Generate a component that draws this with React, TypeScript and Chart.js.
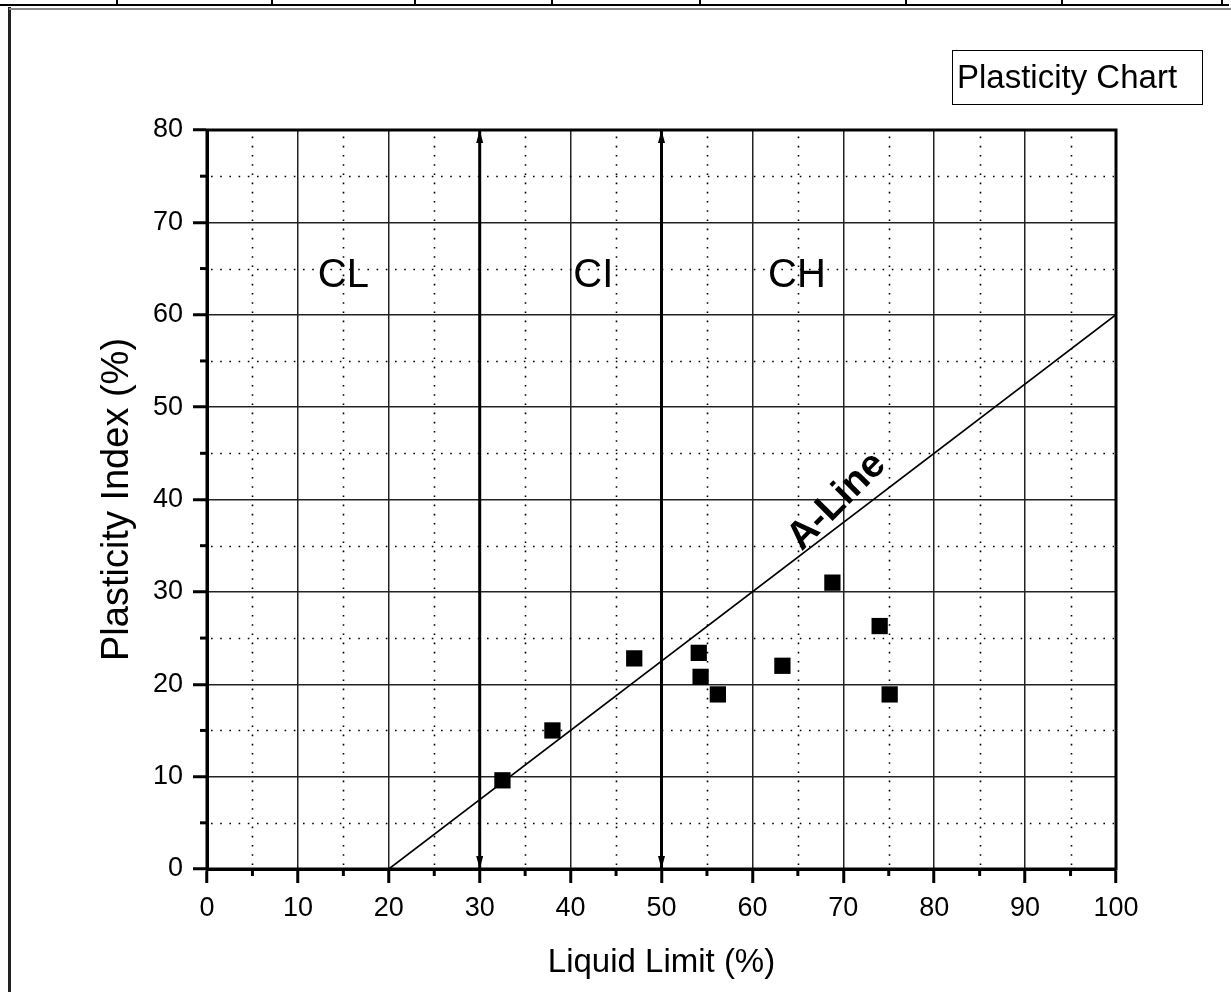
import React, { useEffect, useRef } from 'react';
import { Chart, registerables } from 'chart.js';

Chart.register(...registerables);

// ---- data ----
const liquidLimit = [32.5, 38, 47, 54.1, 54.3, 56.2, 63.3, 68.8, 74, 75.1];
const plasticityIndex = [9.6, 15, 22.8, 23.4, 20.8, 18.9, 22.0, 31.0, 26.3, 18.9];
const aLineLL = [20, 100];
const aLinePI = [0, 60];
const boundaryLL = [30, 50];
const boundaryPI = [0, 80];
const xRange = [0, 100];
const yRange = [0, 80];
const majorStep = 10;
const minorXTicks = [5, 15, 25, 35, 45, 55, 65, 75, 85, 95];
const minorYTicks = [5, 15, 25, 35, 45, 55, 65, 75];
const zoneLabels = ['CL', 'CI', 'CH'];
const zoneLabelLL = [15, 42.5, 64.9];
const zoneLabelPI = [64.2, 64.2, 64.2];
const aLineLabel = 'A-Line';
const aLineLabelPos = [69.3, 39.8];
const chartTitle = 'Plasticity Chart';
const xTitle = 'Liquid Limit (%)';
const yTitle = 'Plasticity Index (%)';
const headerCells = [116, 271, 414, 551, 699, 905, 1061, 1221];

const FONT = '"Liberation Sans", Arial, Helvetica, sans-serif';

const decor = {
  id: 'decor',
  beforeDatasetsDraw(chart: any) {
    const { ctx, chartArea: a, scales } = chart;
    const xs = scales.x, ys = scales.y;
    ctx.save();
    // minor dotted grid
    ctx.strokeStyle = '#000';
    ctx.lineWidth = 1.6;
    ctx.setLineDash([1.6, 7.6]);
    minorXTicks.forEach((v) => {
      const px = Math.round(xs.getPixelForValue(v)) + 0.5;
      ctx.beginPath();
      ctx.moveTo(px, a.bottom - 4);
      ctx.lineTo(px, a.top + 2);
      ctx.stroke();
    });
    minorYTicks.forEach((v) => {
      const py = Math.round(ys.getPixelForValue(v)) + 0.5;
      ctx.beginPath();
      ctx.moveTo(a.left + 4, py);
      ctx.lineTo(a.right - 2, py);
      ctx.stroke();
    });
    ctx.setLineDash([]);
    // minor ticks
    ctx.lineWidth = 3;
    minorXTicks.forEach((v) => {
      const px = xs.getPixelForValue(v);
      ctx.beginPath();
      ctx.moveTo(px, a.bottom);
      ctx.lineTo(px, a.bottom + 7);
      ctx.stroke();
    });
    minorYTicks.forEach((v) => {
      const py = ys.getPixelForValue(v);
      ctx.beginPath();
      ctx.moveTo(a.left, py);
      ctx.lineTo(a.left - 7, py);
      ctx.stroke();
    });
    ctx.restore();
  },
  afterDatasetsDraw(chart: any) {
    const { ctx, chartArea: a, scales } = chart;
    const xs = scales.x, ys = scales.y;
    ctx.save();
    // frame
    ctx.strokeStyle = '#000';
    ctx.lineWidth = 3;
    ctx.strokeRect(a.left, a.top, a.right - a.left, a.bottom - a.top);
    // arrowheads
    ctx.fillStyle = '#000';
    boundaryLL.forEach((v) => {
      const px = xs.getPixelForValue(v);
      const top = ys.getPixelForValue(boundaryPI[1]);
      const bot = ys.getPixelForValue(boundaryPI[0]);
      ctx.beginPath();
      ctx.moveTo(px, top);
      ctx.lineTo(px - 3.5, top + 13);
      ctx.lineTo(px + 3.5, top + 13);
      ctx.closePath();
      ctx.fill();
      ctx.beginPath();
      ctx.moveTo(px, bot);
      ctx.lineTo(px - 3.5, bot - 13);
      ctx.lineTo(px + 3.5, bot - 13);
      ctx.closePath();
      ctx.fill();
    });
    // zone labels
    ctx.font = `40px ${FONT}`;
    ctx.textAlign = 'center';
    ctx.textBaseline = 'middle';
    zoneLabels.forEach((t, i) => {
      ctx.fillText(t, xs.getPixelForValue(zoneLabelLL[i]), ys.getPixelForValue(zoneLabelPI[i]));
    });
    // A-Line label
    ctx.translate(xs.getPixelForValue(aLineLabelPos[0]), ys.getPixelForValue(aLineLabelPos[1]));
    ctx.rotate(-Math.PI / 4);
    ctx.font = `bold 39px ${FONT}`;
    ctx.fillText(aLineLabel, 0, 0);
    ctx.restore();
  },
};

export default function App() {
  const ref = useRef<HTMLCanvasElement>(null);
  useEffect(() => {
    if (!ref.current) return;
    const chart = new Chart(ref.current, {
      type: 'scatter',
      data: {
        datasets: [
          {
            label: 'A-Line',
            type: 'line',
            data: aLineLL.map((x, i) => ({ x, y: aLinePI[i] })),
            borderColor: '#000',
            borderWidth: 1.6,
            pointRadius: 0,
            fill: false,
          } as any,
          ...boundaryLL.map((v) => ({
            label: 'LL ' + v,
            type: 'line',
            data: boundaryPI.map((y) => ({ x: v, y })),
            borderColor: '#000',
            borderWidth: 3,
            pointRadius: 0,
            fill: false,
          } as any)),
          {
            label: 'Samples',
            data: liquidLimit.map((x, i) => ({ x, y: plasticityIndex[i] })),
            pointStyle: 'rect',
            pointRadius: 11.5,
            backgroundColor: '#000',
            borderColor: '#000',
            borderWidth: 0,
          },
        ],
      },
      options: {
        responsive: false,
        animation: false,
        layout: { padding: { top: 130, right: 115, left: 0, bottom: 0 } },
        plugins: { legend: { display: false }, tooltip: { enabled: false } },
        scales: {
          x: {
            type: 'linear',
            min: xRange[0],
            max: xRange[1],
            afterFit: (s: any) => { s.height = 123; },
            ticks: { stepSize: majorStep, color: '#000', font: { family: FONT, size: 27 }, padding: 9, maxRotation: 0, autoSkip: false },
            grid: { color: '#222', lineWidth: 1.5, tickLength: 14, tickWidth: 3, tickColor: '#000' },
            border: { color: '#000', width: 3 },
            title: { display: true, text: xTitle, color: '#000', font: { family: FONT, size: 33 }, padding: { top: 0, bottom: 9 } },
          },
          y: {
            type: 'linear',
            min: yRange[0],
            max: yRange[1],
            afterFit: (s: any) => { s.width = 207; },
            ticks: { stepSize: majorStep, color: '#000', font: { family: FONT, size: 27 }, padding: 10, autoSkip: false },
            grid: { color: '#222', lineWidth: 1.5, tickLength: 14, tickWidth: 3, tickColor: '#000' },
            border: { color: '#000', width: 3 },
            title: { display: true, text: yTitle, color: '#000', font: { family: FONT, size: 38 }, padding: { top: 95, bottom: 0 } },
          },
        },
      },
      plugins: [decor],
    });
    return () => chart.destroy();
  }, []);

  return (
    <div style={{ position: 'fixed', left: 0, top: 0, width: 1231, height: 992, background: '#fff', overflow: 'hidden' }}>
      <canvas ref={ref} width={1231} height={992} style={{ display: 'block', position: 'absolute', left: 0, top: 0 }} />
      {/* page frame */}
      <div style={{ position: 'absolute', left: 0, top: 4, width: 1229, height: 2, background: '#000' }} />
      {headerCells.map((x) => (
        <div key={x} style={{ position: 'absolute', left: x, top: 0, width: 1.5, height: 5, background: '#000' }} />
      ))}
      <div style={{ position: 'absolute', left: 8, top: 7, width: 2.5, height: 985, background: '#222' }} />
      <div style={{ position: 'absolute', left: 9, top: 8, width: 1222, height: 1.5, background: '#888' }} />
      {/* chart caption box */}
      <div
        style={{
          position: 'absolute',
          left: 952,
          top: 50,
          width: 251,
          height: 55,
          boxSizing: 'border-box',
          border: '1.5px solid #000',
          fontFamily: FONT,
          fontSize: 33,
          lineHeight: '52px',
          paddingLeft: 4,
          color: '#000',
          whiteSpace: 'nowrap',
        }}
      >
        {chartTitle}
      </div>
    </div>
  );
}
